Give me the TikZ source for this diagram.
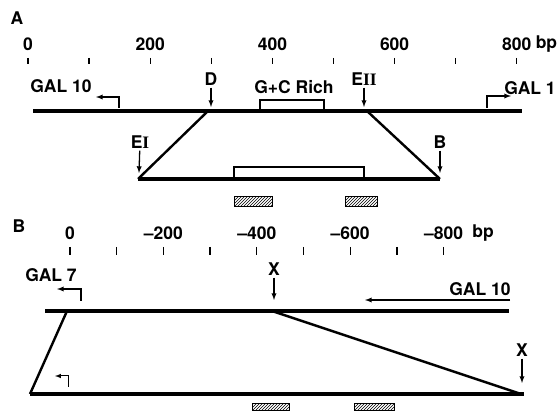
\documentclass[tikz,border=0pt]{standalone}
\usepackage{fontspec}
\setmainfont{TeX Gyre Heros}
\newfontfamily\romnum{Liberation Serif}
\usetikzlibrary{arrows,patterns,positioning}

\newcommand{\rI}{{\romnum I}}

\begin{document}
\begin{tikzpicture}[x=1pt,y=-1pt,>=latex,
    font=\fontsize{17.5}{20}\selectfont\bfseries,
    dna/.style={line width=4.5pt},
    joint/.style={line width=2.4pt},
    fine/.style={line width=1.3pt},
    hatchbox/.style={pattern=north east lines,draw,line width=1pt},
    lbl/.style={inner sep=2pt}]
  \useasboundingbox (0,0) rectangle (560,411);

  %%%% part A
  \node[lbl] (partA) at (17,18) {A};
  %axis
  \foreach \x in {0,...,8}
      \draw[fine] (28+61.1*\x,58) -- (28+61.1*\x,64);
  \foreach \x/\t in {0/0,2/200,4/400,6/600,8/800}
      \node[lbl] (sa\x) at (28+61.1*\x,44) {\t};
  \node[lbl,inner sep=1pt,right=1pt of sa8] (bpA) {bp};

  %strands
  \coordinate (a1) at (33,111);
  \coordinate (a2) at (522,111);
  \coordinate (jD) at (208,111);
  \coordinate (jE) at (367,111);
  \coordinate (b1) at (138,179);
  \coordinate (b2) at (440,179);
  \draw[dna] (a1) -- (a2);
  \draw[dna] (b1) -- (b2);
  \draw[joint] (jD) -- (b1);
  \draw[joint] (jE) -- (b2);

  %G+C rich region
  \draw[fine] (260,100) rectangle (324,111);
  \node[lbl] (gcrich) at (294,87) {G+C\ Rich};
  \draw[fine] (234,167) rectangle (364,179);

  %genes
  \node[lbl] (gal10a) at (61,86) {GAL\ 10};
  \coordinate (g10s) at (119,108);
  \coordinate (g10e) at (96,97);
  \draw[fine,->] (g10s) |- (g10e);
  \node[lbl] (gal1) at (530,88) {GAL\ 1};
  \coordinate (g1s) at (487,108);
  \coordinate (g1e) at (511,96);
  \draw[fine,->] (g1s) |- (g1e);

  %sites
  \node[lbl] (nD) at (211,79) {D};
  \coordinate (tD) at (211,107);
  \draw[fine,->] (nD) -- (tD);
  \node[lbl] (nEII) at (364,79) {E\rI\rI};
  \coordinate (tEII) at (364,107);
  \draw[fine,->] (nEII) -- (tEII);
  \node[lbl] (nEI) at (140,142) {E\rI};
  \coordinate (tEI) at (139,173);
  \draw[fine,->] (nEI) -- (tEI);
  \node[lbl] (nB) at (440,142) {B};
  \coordinate (tB) at (440,173);
  \draw[fine,->] (nB) -- (tB);

  %probes
  \draw[hatchbox] (234,197) rectangle (272,207);
  \draw[hatchbox] (345,197) rectangle (377,207);

  %%%% part B
  \node[lbl] (partB) at (19,226) {B};
  %axis
  \foreach \x in {0,...,8}
      \draw[fine] (70+46.7*\x,247) -- (70+46.7*\x,255);
  \foreach \x/\t in {0/0,2/{\textendash}200,4/{\textendash}400,6/{\textendash}600,8/{\textendash}800}
      \node[lbl] (sb\x) at (70+46.7*\x,233) {\t};
  \node[lbl,right=5pt of sb8] (bpB) {bp};

  %strands
  \coordinate (c1) at (45,311);
  \coordinate (c2) at (509,311);
  \coordinate (jL) at (67,311);
  \coordinate (jX) at (272,311);
  \coordinate (d1) at (30,394);
  \coordinate (d2) at (524,394);
  \coordinate (dX) at (521,394);
  \draw[dna] (c1) -- (c2);
  \draw[dna] (d1) -- (d2);
  \draw[joint] (jL) -- (d1);
  \draw[joint] (jX) -- (dX);

  %genes
  \node[lbl] (gal7) at (51,275) {GAL\ 7};
  \coordinate (g7s) at (81,301);
  \coordinate (g7e) at (57,289);
  \draw[fine,->] (g7s) |- (g7e);
  \node[lbl] (gal10b) at (480,289) {GAL\ 10};
  \coordinate (g10bs) at (510,300);
  \coordinate (g10be) at (365,300);
  \draw[fine,->] (g10bs) -- (g10be);
  \coordinate (g7bs) at (68,387);
  \coordinate (g7be) at (55,376);
  \draw[line width=1pt,->] (g7bs) |- (g7be);

  %sites
  \node[lbl] (nX1) at (274,269) {X};
  \coordinate (tX1) at (274,300);
  \draw[fine,->] (nX1) -- (tX1);
  \node[lbl] (nX2) at (522,350) {X};
  \coordinate (tX2) at (522,383);
  \draw[fine,->] (nX2) -- (tX2);

  %probes
  \draw[hatchbox] (252,404) rectangle (289,411);
  \draw[hatchbox] (354,404) rectangle (394,411);
\end{tikzpicture}
\end{document}
